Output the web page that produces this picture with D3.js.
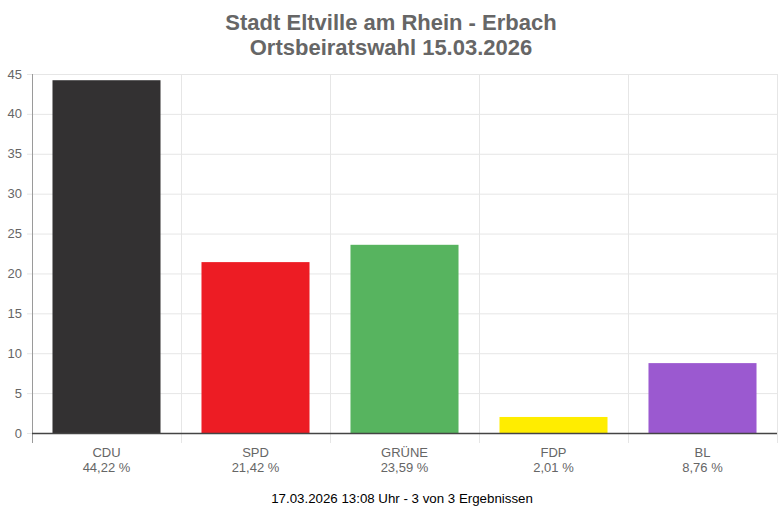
<!DOCTYPE html>
<html><head><meta charset="utf-8">
<script src="https://cdn.jsdelivr.net/npm/d3@7"></script>
<style>body{margin:0;background:#fff;font-family:"Liberation Sans",Arial,sans-serif;}</style>
</head><body><svg id="c" width="780" height="513"></svg>
<script>
const categories = ["CDU","SPD","GRÜNE","FDP","BL"];
const values = [44.22,21.42,23.59,2.01,8.76];
const colors = ["#333132","#ed1c24","#57b45f","#ffed00","#9b59d0"];
const yTicks = [0,5,10,15,20,25,30,35,40,45];
const titleLines = ["Stadt Eltville am Rhein - Erbach","Ortsbeiratswahl 15.03.2026"];
const footer = "17.03.2026 13:08 Uhr - 3 von 3 Ergebnissen";

const svg = d3.select("#c");
const m = {l:32, r:777, t:74, b:433};
const x = d3.scaleBand().domain(categories).range([m.l,m.r]).paddingInner(0.275).paddingOuter(0.1375);
const xb = d3.scaleBand().domain(categories).range([m.l,m.r]);
const y = d3.scaleLinear().domain([0,45]).range([m.b,m.t]);

svg.append("g").selectAll("line").data(yTicks).join("line")
  .attr("x1",m.l-5).attr("x2",m.r).attr("y1",d=>y(d)+0.5).attr("y2",d=>y(d)+0.5)
  .attr("stroke","#e6e6e6").attr("stroke-width",1);
const vx = categories.map(c=>xb(c)).concat([m.r]);
svg.append("g").selectAll("line").data(vx).join("line")
  .attr("x1",d=>Math.round(d)+0.5).attr("x2",d=>Math.round(d)+0.5).attr("y1",m.t).attr("y2",m.b+10)
  .attr("stroke",(d,i)=>i===0?"#9a9a9a":"#e6e6e6").attr("stroke-width",1);

svg.append("g").selectAll("text").data(yTicks).join("text")
  .attr("x",22).attr("y",d=>y(d)+4.5).attr("text-anchor","end")
  .attr("font-size",13).attr("fill","#666").text(d=>d);

svg.append("g").selectAll("rect").data(values).join("rect")
  .attr("x",(d,i)=>x(categories[i])).attr("width",x.bandwidth())
  .attr("y",d=>y(d)).attr("height",d=>y(0)-y(d))
  .attr("fill",(d,i)=>colors[i]);

svg.append("line").attr("x1",m.l).attr("x2",m.r).attr("y1",m.b+0.5).attr("y2",m.b+0.5)
  .attr("stroke","#444").attr("stroke-width",1.5);

const xl = svg.append("g").selectAll("g").data(categories).join("g");
xl.append("text").attr("x",d=>xb(d)+xb.bandwidth()/2).attr("y",457).attr("text-anchor","middle")
  .attr("font-size",13).attr("fill","#666").text(d=>d);
xl.append("text").attr("x",d=>xb(d)+xb.bandwidth()/2).attr("y",472).attr("text-anchor","middle")
  .attr("font-size",13).attr("fill","#666")
  .text((d,i)=>values[i].toFixed(2).replace(".",",")+" %");

svg.append("g").selectAll("text").data(titleLines).join("text")
  .attr("x",391).attr("y",(d,i)=>30+i*25).attr("text-anchor","middle")
  .attr("font-size",22).attr("font-weight","bold").attr("fill","#666").text(d=>d);

svg.append("text").attr("x",402).attr("y",503).attr("text-anchor","middle")
  .attr("font-size",13.3).attr("fill","#000").text(footer);
</script></body></html>
